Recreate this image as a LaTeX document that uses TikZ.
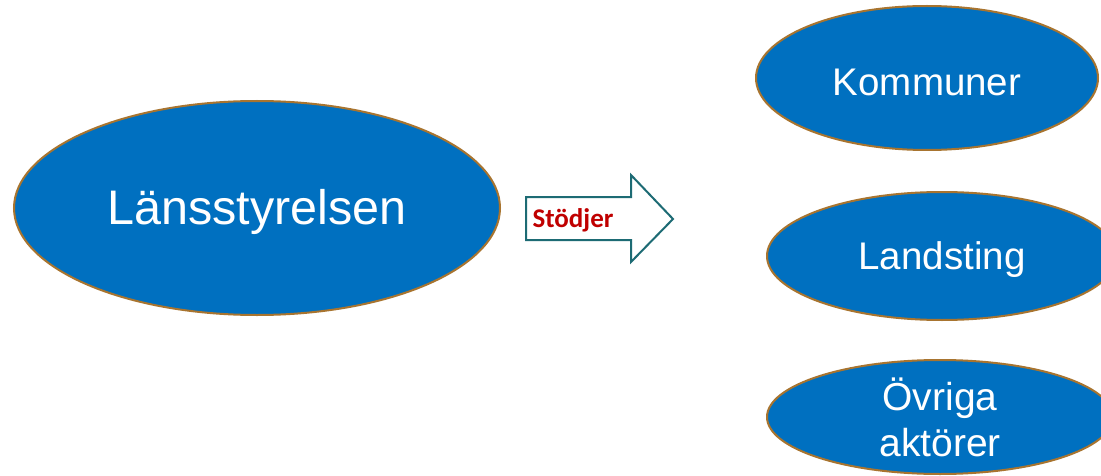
\documentclass[tikz,border=0pt]{standalone}
\usepackage{fontspec}
\setmainfont{Liberation Sans}
\newfontfamily\calib{Carlito}
\usetikzlibrary{shapes.geometric}
\definecolor{fillblue}{HTML}{0070C0}
\definecolor{rimbrown}{HTML}{A8742F}
\definecolor{arrowteal}{HTML}{1D6B74}
\definecolor{labelred}{HTML}{C00000}
\newcommand\lowered[1]{\raisebox{-4pt}[\height][\depth]{#1}}
\begin{document}
\begin{tikzpicture}[x=1pt,y=1pt,
  blob/.style={ellipse,draw=rimbrown,line width=2pt,fill=fillblue,text=white,inner sep=0pt,align=center}]
\clip (0,0) rectangle (1101,475);
\fill[white] (0,0) rectangle (1101,475);
\node[blob,minimum width=486pt,minimum height=214pt,font=\fontsize{48.5}{52}\selectfont] (lan) at (257,267) {\lowered{Länsstyrelsen}};
\node[blob,minimum width=342pt,minimum height=144pt,font=\fontsize{38.5}{44}\selectfont] (kom) at (927,397) {\lowered{Kommuner}};
\node[blob,minimum width=350pt,minimum height=128pt,font=\fontsize{38.5}{44}\selectfont] (land) at (942,219) {\lowered{Landsting}};
\node[blob,minimum width=346pt,minimum height=114pt,font=\fontsize{39}{46}\selectfont] (ovr) at (940,58) {Övriga\\aktörer};
\draw[arrowteal,line width=2pt,line join=miter,fill=white]
  (526,278) -- (631,278) -- (631,300) -- (673,256) -- (631,213) -- (631,235) -- (526,235) -- cycle;
\node[font=\calib\bfseries\fontsize{27}{30}\selectfont,text=labelred] (stod) at (573,255) {Stödjer};
\end{tikzpicture}
\end{document}
